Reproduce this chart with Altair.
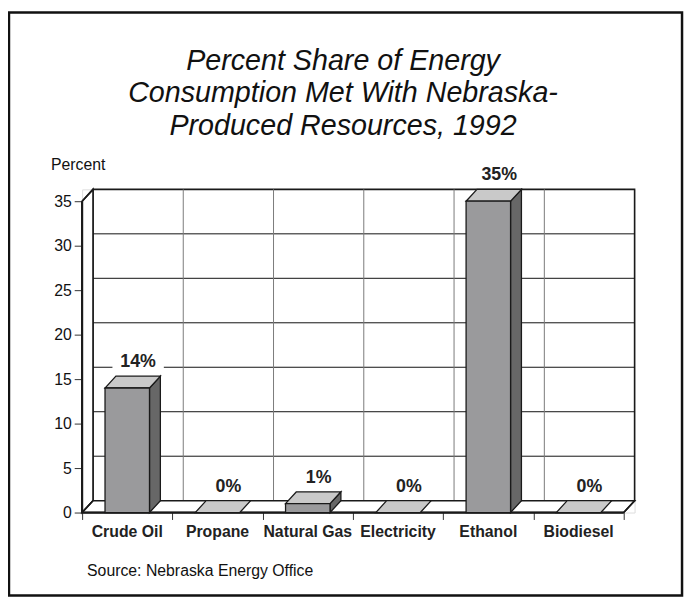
import altair as alt
import pandas as pd

# ---------------- data ----------------
categories = ["Crude Oil", "Propane", "Natural Gas", "Electricity", "Ethanol", "Biodiesel"]
values = [14, 0, 1, 0, 35, 0]
value_labels = ["14%", "0%", "1%", "0%", "35%", "0%"]
y_ticks = [0, 5, 10, 15, 20, 25, 30, 35]
title_lines = ["Percent Share of Energy", "Consumption Met With Nebraska-", "Produced Resources, 1992"]
y_title = "Percent"
source_note = "Source: Nebraska Energy Office"

# ---------------- 3-D styling constants (pixels) ----------------
BAND_PX = 91.33
UNIT_PX = 9.0
DEPTH_X_PX = 11
DEPTH_Y_PX = 12
BAR_PX = 45
FONT = "Liberation Sans"

N = len(categories)
YMAX = max(y_ticks)
DX = DEPTH_X_PX / BAND_PX
DY = DEPTH_Y_PX / UNIT_PX
HW = BAR_PX / 2 / BAND_PX
XMAX = N + DX
YTOP = YMAX + DY
W = round(XMAX * BAND_PX)
H = round(YTOP * UNIT_PX)

xs = alt.Scale(domain=[0, XMAX], nice=False, zero=False)
ys = alt.Scale(domain=[0, YTOP], nice=False, zero=False)

x_axis = alt.Axis(values=list(range(N + 1)), labels=False, domain=False, grid=False, ticks=True,
                  tickSize=7, tickColor="#333333", tickWidth=1, title=None)
y_axis = alt.Axis(values=y_ticks, domain=False, grid=False, tickSize=8, tickColor="#333333",
                  tickWidth=1, labelFontSize=16, labelFont=FONT, labelColor="#111111",
                  labelPadding=3, title=y_title, titleAngle=0, titleAlign="left",
                  titleBaseline="alphabetic", titleX=-32, titleY=-20, titleFontSize=16,
                  titleFontWeight="normal", titleFont=FONT, titleColor="#111111")


def X(f, **kw):
    return alt.X(f, type="quantitative", scale=xs, axis=x_axis, title=None, **kw)


def Y(f, **kw):
    return alt.Y(f, type="quantitative", scale=ys, axis=y_axis, title=y_title, **kw)


LINE = "#1a1a1a"

# ---------------- frame data ----------------
one = pd.DataFrame({"k": [0]})
back = pd.DataFrame({"x": [DX], "x2": [N + DX], "y": [DY], "y2": [YMAX + DY]})
hgrid = pd.DataFrame({"y": [t + DY for t in y_ticks if 0 < t < YMAX]})
hgrid["x"] = DX
hgrid["x2"] = N + DX
vgrid = pd.DataFrame({"x": [k + DX for k in range(1, N)]})
vgrid["y"] = DY
vgrid["y2"] = YMAX + DY
left_wall = pd.DataFrame({"x": [0, DX], "y": [0, DY], "y2": [YMAX, YMAX + DY]})
floor = pd.DataFrame({"y": [0, DY], "x": [0, DX], "x2": [N, N + DX]})
front_y = pd.DataFrame({"x": [0], "y": [0], "y2": [YMAX]})
front_x = pd.DataFrame({"y": [0], "x": [0], "x2": [N]})
diag = pd.DataFrame({"x": [0, 0, N], "y": [0, YMAX, 0]})
diag["x2"] = diag.x + DX
diag["y2"] = diag.y + DY

# ---------------- bar data ----------------
bars = pd.DataFrame({"cat": categories, "v": values, "lab": value_labels})
bars["c"] = [i + 0.5 for i in range(N)]
bars["xl"] = bars.c - HW
bars["xr"] = bars.c + HW
bars["zero"] = 0.0
bars["lx"] = bars.c + DX
bars["ly"] = bars.v + DY
bars["bx"] = bars.lx - 26 / BAND_PX
bars["bx2"] = bars.lx + 26 / BAND_PX
bars["by"] = bars.ly + 5 / UNIT_PX
bars["by2"] = bars.ly + 25 / UNIT_PX

top_rows, side_rows = [], []
for r in bars.itertuples():
    top_rows.append(dict(cat=r.cat, y=r.v, x=r.xl, x2=r.xr))
    top_rows.append(dict(cat=r.cat, y=r.v + DY, x=r.xl + DX, x2=r.xr + DX))
    if r.v > 0:
        side_rows.append(dict(cat=r.cat, x=r.xr, y=0.0, y2=r.v))
        side_rows.append(dict(cat=r.cat, x=r.xr + DX, y=DY, y2=r.v + DY))
tops = pd.DataFrame(top_rows)
sides = pd.DataFrame(side_rows)
fronts = bars[bars.v > 0]

# ---------------- layers ----------------
back_l = alt.Chart(back).mark_rect(fill="white", stroke=LINE, strokeWidth=1.6).encode(
    x=X("x"), x2="x2", y=Y("y"), y2="y2")
hgrid_l = alt.Chart(hgrid).mark_rule(color="#111111", strokeWidth=1).encode(
    x=X("x"), x2="x2", y=Y("y"))
vgrid_l = alt.Chart(vgrid).mark_rule(color="#7a7a7a", strokeWidth=1).encode(
    x=X("x"), y=Y("y"), y2="y2")
left_l = alt.Chart(left_wall).mark_area(orient="vertical", fill="white", stroke=LINE,
                                         strokeWidth=1.6).encode(x=X("x"), y=Y("y"), y2="y2")
floor_l = alt.Chart(floor).mark_area(orient="horizontal", fill="white", stroke=LINE,
                                      strokeWidth=1.6).encode(y=Y("y"), x=X("x"), x2="x2")
front_y_l = alt.Chart(front_y).mark_rule(color=LINE, strokeWidth=2.2).encode(
    x=X("x"), y=Y("y"), y2="y2")
front_x_l = alt.Chart(front_x).mark_rule(color=LINE, strokeWidth=2.2).encode(
    x=X("x"), x2="x2", y=Y("y"))
diag_l = alt.Chart(diag).mark_rule(color=LINE, strokeWidth=1.6).encode(
    x=X("x"), x2="x2", y=Y("y"), y2="y2")

side_l = alt.Chart(sides).mark_area(orient="vertical", fill="#676767", stroke=LINE,
                                     strokeWidth=1.3, strokeJoin="miter").encode(
    x=X("x"), y=Y("y"), y2="y2", detail="cat:N")
top_l = alt.Chart(tops).mark_area(orient="horizontal", fill="#c9c9c9", stroke=LINE,
                                   strokeWidth=1.3, strokeJoin="miter").encode(
    y=Y("y"), x=X("x"), x2="x2", detail="cat:N")
front_l = alt.Chart(fronts).mark_rect(fill="#9a9a9c", stroke=LINE, strokeWidth=1.3).encode(
    x=X("xl"), x2="xr", y=Y("zero"), y2="v")

box_l = alt.Chart(bars).mark_rect(fill="white").encode(
    x=X("bx"), x2="bx2", y=Y("by"), y2="by2")
val_l = alt.Chart(bars).mark_text(font=FONT, fontSize=18, fontWeight="bold", color="#222222",
                                  align="center", baseline="alphabetic", dy=-9).encode(
    x=X("lx"), y=Y("ly"), text="lab:N")
cat_l = alt.Chart(bars).mark_text(font=FONT, fontSize=16, fontWeight="bold", color="#222222",
                                  align="center", baseline="alphabetic", dy=25).encode(
    x=X("c"), y=Y("zero"), text="cat:N")

title_l = alt.Chart(one).mark_text(text=title_lines, font=FONT, fontSize=29, fontStyle="italic",
                                   lineHeight=33, align="center", baseline="alphabetic",
                                   color="#111111").encode(x=alt.value(264), y=alt.value(-121))
source_l = alt.Chart(one).mark_text(text=source_note, font=FONT, fontSize=16, align="left",
                                    baseline="alphabetic", color="#111111").encode(
    x=alt.value(5), y=alt.value(391))
frame_l = alt.Chart(one).mark_rect(fill="transparent", stroke="#111111", strokeWidth=2.5).encode(
    x=alt.value(-74), x2=alt.value(607), y=alt.value(-179), y2=alt.value(411))

chart = alt.layer(
    back_l, hgrid_l, vgrid_l, left_l, floor_l, front_y_l, front_x_l, diag_l,
    side_l, top_l, front_l, box_l, val_l, cat_l, title_l, source_l, frame_l,
).properties(
    width=W, height=H,
    autosize=alt.AutoSizeParams(type="none"),
    padding={"left": 75, "top": 180, "right": 51, "bottom": 86},
).configure_view(stroke=None).configure(background="white", font=FONT)

chart.save("out.html", embed_options={"renderer": "svg", "actions": False})
